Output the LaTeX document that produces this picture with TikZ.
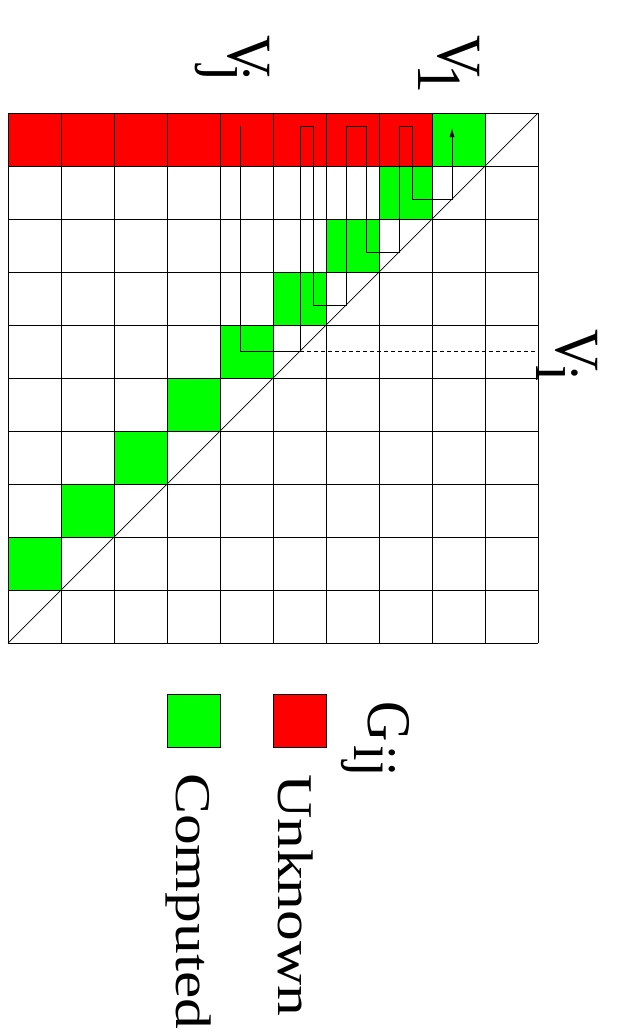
\documentclass[tikz,border=0pt]{standalone}
\usepackage{fontspec}
\setmainfont{Liberation Serif}
\usetikzlibrary{arrows.meta}
\definecolor{unk}{RGB}{255,0,0}
\definecolor{comp}{RGB}{0,255,0}
\tikzset{
  gridline/.style={draw=black, line width=0.7pt},
  redcell/.style={fill=unk},
  greencell/.style={fill=comp},
  trail/.style={draw=black, line width=0.8pt},
  dashtrail/.style={draw=black, line width=0.8pt, dash pattern=on 4pt off 3pt},
  vlabel/.style={rotate=-90, anchor=base west, inner sep=0pt, outer sep=0pt, font=\fontsize{63}{63}\selectfont},
  glabel/.style={rotate=-90, anchor=base west, inner sep=0pt, outer sep=0pt, font=\fontsize{62}{62}\selectfont},
  leglabel/.style={rotate=-90, anchor=base west, inner sep=0pt, outer sep=0pt, font=\fontsize{50}{50}\selectfont},
  legbox/.style={draw=black, line width=0.7pt, minimum width=53pt, minimum height=53pt, inner sep=0pt, outer sep=0pt},
}
\begin{document}
\begin{tikzpicture}[x=1pt,y=-1pt]
\useasboundingbox (0,0) rectangle (627,1033);
% red row
\fill[redcell] (8,113) rectangle (432,166);
% green diagonal cells
\foreach \r in {0,...,8}{
  \pgfmathsetmacro{\cx}{8+53*(8-\r)}
  \pgfmathsetmacro{\cy}{113+53*\r}
  \fill[greencell] (\cx,\cy) rectangle ++(53,53);
}
% grid
\foreach \k in {0,...,10}{
  \draw[gridline] (8+53*\k,113) -- (8+53*\k,643);
  \draw[gridline] (8,113+53*\k) -- (538,113+53*\k);
}
% diagonal
\coordinate (dtop) at (538,113);
\coordinate (dbot) at (8,643);
\draw[gridline] (dtop) -- (dbot);
% trail
\coordinate (tstart) at (240,126);
\coordinate (tend) at (452,128);
\coordinate (vi) at (300,351);
\coordinate (vedge) at (538,351);
\draw[trail, -{Latex[length=9pt,width=5pt]}] (tstart) -- (240,351) -- (vi) -- (300,126) -- (313,126) -- (313,305) -- (346,305)
  -- (346,126) -- (366,126) -- (366,252) -- (399,252) -- (399,126) -- (412,126) -- (412,199) -- (452,199) -- (tend);
\draw[dashtrail] (vi) -- (vedge);
% labels
\node[vlabel] (v1) at (438,36) {\scalebox{0.92}[1]{V\kern-15pt\raisebox{-20pt}{1}}};
\node[vlabel] (vj) at (228,36) {\scalebox{0.92}[1]{V\kern-13pt\raisebox{-20pt}{j}}};
\node[vlabel] (vilab) at (556,329) {\scalebox{0.92}[1]{V\kern-6pt\raisebox{-20pt}{i}}};
% legend
\node[glabel] (gij) at (368,701) {\scalebox{0.9}[1]{G\kern5pt\raisebox{-14pt}{ij}}};
\node[legbox, fill=unk] (redbox) at (299.5,720.5) {};
\node[legbox, fill=comp] (greenbox) at (193.5,720.5) {};
\node[leglabel] (unknown) at (278,774) {\scalebox{1.23}[1]{Unknown}};
\node[leglabel] (computed) at (176,773) {\scalebox{1.23}[1]{Computed}};
\end{tikzpicture}
\end{document}
